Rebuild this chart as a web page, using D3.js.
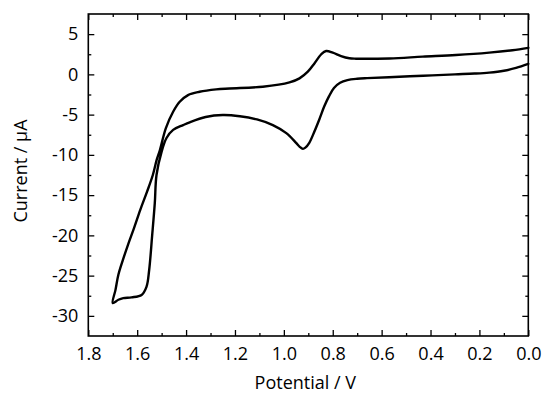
<!DOCTYPE html>
<html>
<head>
<meta charset="utf-8">
<script src="https://cdn.jsdelivr.net/npm/d3@7"></script>
<style>
  html, body { margin: 0; padding: 0; background: #fff; }
  svg { display: block; }
  text { font-family: "Open Sans", sans-serif; fill: #000; }
</style>
</head>
<body>
<svg id="chart" width="550" height="396"></svg>
<script>
// ---- Data ----
// Forward (anodic) scan: 0.0 V -> 1.70 V
const forwardPotential = [0.00, 0.05, 0.10, 0.16, 0.22, 0.30, 0.43, 0.57, 0.66, 0.70, 0.74, 0.77, 0.795, 0.815, 0.835, 0.855, 0.875, 0.896, 0.912, 0.922, 0.935, 0.95, 0.99, 1.045, 1.11, 1.18, 1.25, 1.32, 1.385, 1.412, 1.453, 1.48, 1.50, 1.521, 1.528, 1.539, 1.551, 1.562, 1.582, 1.623, 1.657, 1.677, 1.70];
const forwardCurrent   = [1.3, 0.8, 0.45, 0.22, 0.1, 0.0, -0.17, -0.35, -0.47, -0.55, -0.72, -1.05, -1.7, -2.7, -4.0, -5.6, -7.1, -8.5, -9.1, -9.25, -9.0, -8.5, -7.3, -6.3, -5.6, -5.2, -5.05, -5.3, -5.95, -6.3, -6.9, -7.9, -9.6, -12.5, -16.0, -20.1, -24.3, -26.4, -27.4, -27.7, -27.8, -28.0, -28.4];
// Reverse (cathodic) scan: 1.70 V -> 0.0 V
const reversePotential = [1.70, 1.689, 1.677, 1.660, 1.638, 1.613, 1.587, 1.560, 1.536, 1.520, 1.507, 1.483, 1.453, 1.426, 1.392, 1.345, 1.277, 1.222, 1.086, 0.977, 0.936, 0.902, 0.875, 0.847, 0.827, 0.80, 0.766, 0.732, 0.705, 0.568, 0.432, 0.296, 0.16, 0.065, 0.00];
const reverseCurrent   = [-28.4, -26.8, -24.9, -23.2, -21.2, -19.1, -16.8, -14.6, -12.5, -10.6, -9.4, -6.7, -4.64, -3.4, -2.57, -2.16, -1.86, -1.75, -1.53, -1.0, -0.5, 0.33, 1.36, 2.5, 2.9, 2.7, 2.27, 2.0, 1.95, 1.98, 2.2, 2.4, 2.7, 3.0, 3.3];

const xDomain = [1.8, 0.0];
const yDomain = [-32.5, 7.5];
const xMajorTicks = [1.8, 1.6, 1.4, 1.2, 1.0, 0.8, 0.6, 0.4, 0.2, 0.0];
const xMinorTicks = [1.7, 1.5, 1.3, 1.1, 0.9, 0.7, 0.5, 0.3, 0.1];
const yMajorTicks = [-30, -25, -20, -15, -10, -5, 0, 5];
const yMinorTicks = [-27.5, -22.5, -17.5, -12.5, -7.5, -2.5, 2.5];
const xTitle = "Potential / V";
const yTitle = "Current / µA";

// ---- Layout ----
const svg = d3.select("#chart");
const L = 88.3, R = 528.3, T = 14, B = 336;

const x = d3.scaleLinear().domain(xDomain).range([L, R]);
const y = d3.scaleLinear().domain(yDomain).range([B, T]);

const fontSize = 18;

// Major/minor ticks, inward on all four sides
function addAxis(axisFn, scale, ticks, size, transform, labels, fmt, pad) {
  const a = axisFn(scale).tickValues(ticks).tickSizeInner(-size).tickSizeOuter(0).tickPadding(pad || 0);
  if (labels) a.tickFormat(fmt); else a.tickFormat("");
  const g = svg.append("g").attr("transform", transform).call(a);
  g.select(".domain").remove();
  g.selectAll(".tick line").attr("stroke", "#000").attr("stroke-width", 1.3);
  g.selectAll(".tick text").style("font-size", fontSize + "px").style("font-family", "'Open Sans', sans-serif").attr("fill", "#000");
  return g;
}

const xfmt = d3.format(".1f");
const yfmt = d => String(d);

addAxis(d3.axisBottom, x, xMajorTicks, 6, `translate(0,${B})`, true, xfmt, 11);
addAxis(d3.axisBottom, x, xMinorTicks, 3, `translate(0,${B})`, false);
addAxis(d3.axisTop, x, xMajorTicks, 6, `translate(0,${T})`, false);
addAxis(d3.axisTop, x, xMinorTicks, 3, `translate(0,${T})`, false);
addAxis(d3.axisLeft, y, yMajorTicks, 6, `translate(${L},0)`, true, yfmt, 10);
addAxis(d3.axisLeft, y, yMinorTicks, 3, `translate(${L},0)`, false);
addAxis(d3.axisRight, y, yMajorTicks, 6, `translate(${R},0)`, false);
addAxis(d3.axisRight, y, yMinorTicks, 3, `translate(${R},0)`, false);

// Frame
svg.append("rect")
  .attr("x", L).attr("y", T).attr("width", R - L).attr("height", B - T)
  .attr("fill", "none").attr("stroke", "#000").attr("stroke-width", 1.6);

// Curve
const pts = forwardPotential.map((v, i) => [v, forwardCurrent[i]])
  .concat(reversePotential.slice(1).map((v, i) => [v, reverseCurrent[i + 1]]));

const line = d3.line()
  .x(d => x(d[0]))
  .y(d => y(d[1]))
  .curve(d3.curveCatmullRom.alpha(0.5));

svg.append("path")
  .datum(pts)
  .attr("d", line)
  .attr("fill", "none")
  .attr("stroke", "#000")
  .attr("stroke-width", 2.4)
  .attr("stroke-linejoin", "round")
  .attr("stroke-linecap", "round");

// Titles
svg.append("text")
  .attr("x", (L + R) / 2 - 3)
  .attr("y", 389)
  .attr("text-anchor", "middle")
  .style("font-size", fontSize + "px")
  .text(xTitle);

svg.append("text")
  .attr("transform", `translate(26.5,171) rotate(-90)`)
  .attr("text-anchor", "middle")
  .style("font-size", fontSize + "px")
  .text(yTitle);
</script>
</body>
</html>
